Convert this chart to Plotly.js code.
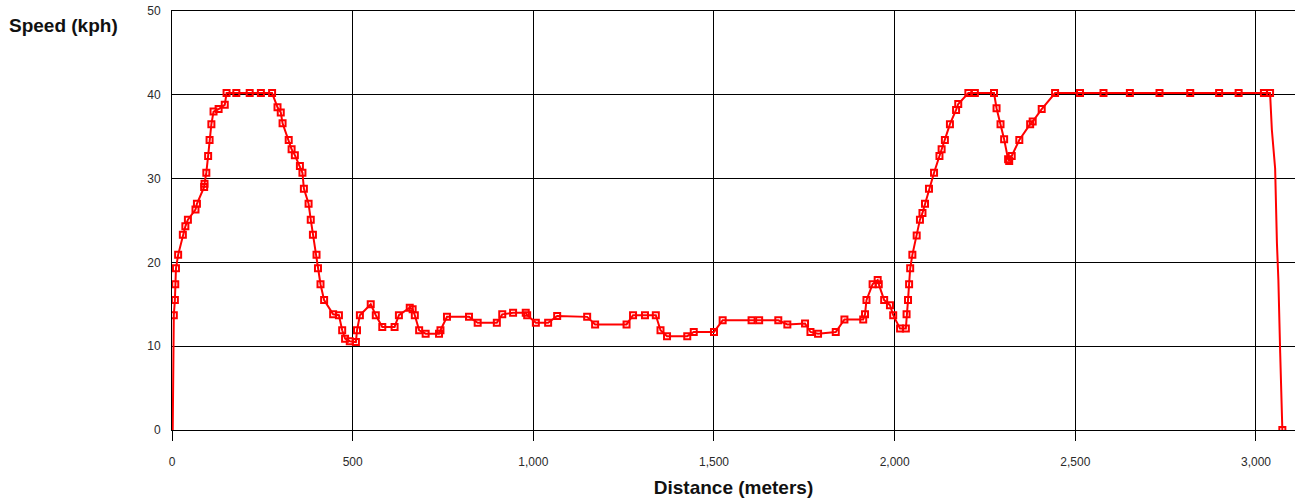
<!DOCTYPE html>
<html>
<head>
<meta charset="utf-8">
<script src="https://cdn.plot.ly/plotly-3.0.1.min.js"></script>
<style>
  html, body { margin: 0; padding: 0; background: #ffffff; }
  #chart { width: 1303px; height: 502px; }
</style>
</head>
<body>
<div id="chart"></div>
<script>
// Sampled speed along the route (markers at each logged sample)
const distance = [
  5, 8, 9, 11, 17, 30, 37, 44, 65, 69,
  89, 90, 95, 100, 104, 109, 115, 129, 146, 151,
  178, 215, 246, 277, 292, 301, 306, 323, 331, 340,
  354, 361, 365, 378, 384, 390, 400, 404, 411, 421,
  446, 462, 471, 479, 492, 509, 512, 520, 550, 564,
  582, 616, 628, 658, 666, 672, 684, 702, 739, 743,
  761, 822, 846, 899, 914, 944, 979, 983, 1007, 1041,
  1066, 1149, 1171, 1258, 1276, 1309, 1339, 1352, 1370, 1426,
  1444, 1500, 1524, 1604, 1625, 1678, 1703, 1752, 1767, 1788,
  1837, 1861, 1913, 1918, 1922, 1939, 1953, 1956, 1971, 1987,
  1996, 2015, 2031, 2033, 2037, 2040, 2043, 2049, 2061, 2070,
  2077, 2084, 2095, 2109, 2124, 2130, 2139, 2153, 2170, 2176,
  2204, 2222, 2275, 2282, 2293, 2303, 2314, 2317, 2324, 2345,
  2375, 2382, 2407, 2444, 2513, 2578, 2651, 2733, 2818, 2898,
  2952, 3022, 3039, 3073
];
const speed = [
  13.7, 15.5, 17.4, 19.3, 20.9, 23.3, 24.3, 25.1, 26.3, 27.0,
  29.0, 29.4, 30.7, 32.7, 34.6, 36.5, 38.0, 38.3, 38.8, 40.2,
  40.2, 40.2, 40.2, 40.2, 38.5, 37.9, 36.6, 34.6, 33.5, 32.8,
  31.5, 30.7, 28.8, 27.0, 25.1, 23.3, 20.9, 19.3, 17.4, 15.5,
  13.8, 13.7, 11.9, 10.9, 10.6, 10.5, 11.9, 13.7, 15.0, 13.7,
  12.3, 12.3, 13.7, 14.6, 14.4, 13.7, 11.9, 11.5, 11.5, 11.9,
  13.5, 13.5, 12.8, 12.8, 13.8, 14.0, 14.0, 13.7, 12.8, 12.8,
  13.6, 13.5, 12.6, 12.6, 13.7, 13.7, 13.7, 11.9, 11.2, 11.2,
  11.7, 11.7, 13.1, 13.1, 13.1, 13.1, 12.6, 12.7, 11.7, 11.5,
  11.7, 13.2, 13.2, 13.8, 15.5, 17.4, 17.9, 17.4, 15.5, 14.9,
  13.7, 12.1, 12.1, 13.8, 15.5, 17.4, 19.3, 20.9, 23.2, 25.1,
  25.9, 27.0, 28.8, 30.7, 32.7, 33.5, 34.6, 36.5, 38.2, 38.9,
  40.2, 40.2, 40.2, 38.4, 36.5, 34.7, 32.3, 32.1, 32.7, 34.6,
  36.5, 36.8, 38.3, 40.2, 40.2, 40.2, 40.2, 40.2, 40.2, 40.2,
  40.2, 40.2, 40.2, 0
];

// Unmarked path segments: the launch from standstill and the final braking
const launchDistance = [2];
const launchSpeed = [0];
const brakingDistance = [3044, 3053, 3058, 3062, 3067, 3071];
const brakingSpeed = [35.8, 31.2, 22.3, 17.9, 9.2, 4.4];

const xTicks = [0, 500, 1000, 1500, 2000, 2500, 3000];
const yTicks = [0, 10, 20, 30, 40, 50];

const lastIdx = distance.length - 1;
const pathX = launchDistance.concat(distance.slice(0, lastIdx), brakingDistance, [distance[lastIdx]]);
const pathY = launchSpeed.concat(speed.slice(0, lastIdx), brakingSpeed, [speed[lastIdx]]);

const red = '#ff0000';

const traces = [
  {
    x: pathX, y: pathY, type: 'scatter', mode: 'lines',
    line: { color: red, width: 2 }, hoverinfo: 'skip', showlegend: false
  },
  {
    x: distance, y: speed, type: 'scatter', mode: 'markers',
    marker: { symbol: 'square-open', size: 6, color: red, line: { color: red, width: 2 } },
    showlegend: false
  }
];

const tickFont = { family: 'Liberation Sans, Arial, sans-serif', size: 12, color: '#2a2a2a' };
const titleFont = { family: 'Liberation Sans, Arial, sans-serif', size: 19, color: '#111111', weight: 'bold' };

const layout = {
  width: 1303, height: 502,
  margin: { l: 172, r: 8, t: 11, b: 72 },
  paper_bgcolor: '#ffffff', plot_bgcolor: '#ffffff',
  showlegend: false,
  xaxis: {
    range: [0, 3108], tickvals: xTicks, tickformat: ',',
    showgrid: true, gridcolor: '#000000', gridwidth: 1,
    zeroline: false, showline: true, linecolor: '#000000', linewidth: 1, mirror: true,
    ticks: 'outside', ticklen: 10, tickcolor: '#000000', tickwidth: 1,
    ticklabelstandoff: 11,
    tickfont: tickFont,
    title: { text: 'Distance (meters)', font: titleFont, standoff: 12 }
  },
  yaxis: {
    range: [0, 50], tickvals: yTicks,
    showgrid: true, gridcolor: '#000000', gridwidth: 1,
    zeroline: false, showline: true, linecolor: '#000000', linewidth: 1,
    ticks: '', ticklabelstandoff: 8,
    tickfont: tickFont
  },
  annotations: [{
    text: 'Speed (kph)', showarrow: false,
    xref: 'paper', yref: 'paper',
    x: -165 / 1123, y: (430 - 26) / 419,
    xanchor: 'left', yanchor: 'middle',
    font: { family: 'Liberation Sans, Arial, sans-serif', size: 19, color: '#111111', weight: 'bold' }
  }]
};

Plotly.newPlot('chart', traces, layout, { staticPlot: true, displayModeBar: false });
</script>
</body>
</html>
